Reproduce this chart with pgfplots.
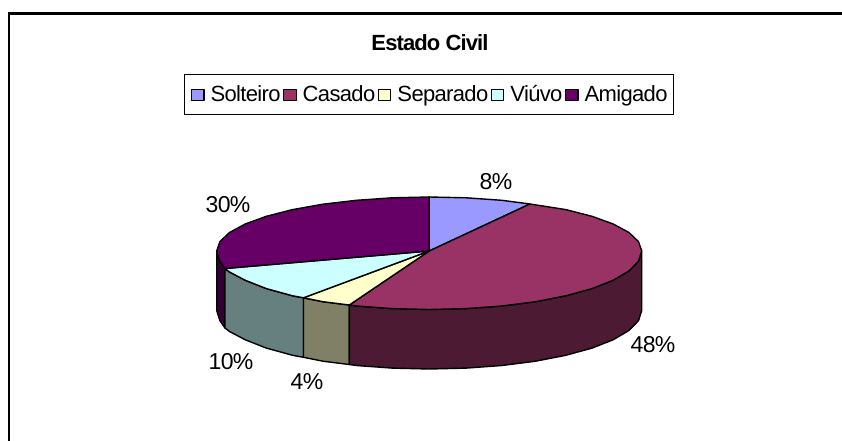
\documentclass[border=0pt]{standalone}
\usepackage{fontspec}
\setmainfont{Liberation Sans}
\usepackage{pgfplots}
\pgfplotsset{compat=1.18}
\definecolor{sol}{HTML}{9999FF}
\definecolor{cas}{HTML}{993366}
\definecolor{sep}{HTML}{FFFFCC}
\definecolor{viu}{HTML}{CCFFFF}
\definecolor{ami}{HTML}{660066}
\definecolor{casd}{HTML}{4D1A33}
\definecolor{sepd}{HTML}{808066}
\definecolor{viud}{HTML}{668080}
\definecolor{amid}{HTML}{330033}
\newcommand{\lab}{\fontsize{23}{26}\selectfont\addfontfeatures{LetterSpace=-3}}
\begin{document}
\begin{tikzpicture}
\path[use as bounding box] (0,0) rectangle (842pt,441pt);
\begin{axis}[
  at={(0,0)}, anchor=south west,
  scale only axis, width=842pt, height=441pt,
  xmin=0, xmax=842, ymin=0, ymax=441, y dir=reverse,
  axis lines=none, clip=false,
  legend columns=5,
  legend style={
    at={(axis cs:429.2,94.5)}, anchor=center,
    draw=black, line width=1.2pt, fill=white,
    font=\fontsize{22}{26}\selectfont\addfontfeatures{LetterSpace=-3},
    inner xsep=6pt, inner ysep=11pt,
    nodes={inner sep=0pt, anchor=base west},
    /tikz/every odd column/.append style={column sep=6pt},
    /tikz/every even column/.append style={column sep=2.5pt},
  },
  legend image code/.code={\draw[#1,line width=1.2pt] (0pt,1.5pt) rectangle (12.5pt,12.5pt);},
  every axis plot/.append style={draw=black, line width=1.4pt, line join=round},
]
% side walls
\addplot[forget plot, fill=amid] coordinates {(225,268.5)(219.9,261.2)(216.7,251)(216.7,310.5)(219.9,320.7)(225,328)} --cycle;
\addplot[forget plot, fill=viud] coordinates {(303.5,297.8)(292.6,295.8)(266.4,288.6)(245.2,280.25)(229.5,272)(225,268.5)(225,328)(229.5,331.5)(245.2,339.75)(266.4,348.1)(292.6,355.3)(303.5,357.3)} --cycle;
\addplot[forget plot, fill=sepd] coordinates {(349.3,305)(322.9,301.7)(303.5,297.8)(303.5,357.3)(322.9,361.2)(349.3,364.5)} --cycle;
\addplot[forget plot, fill=casd] coordinates {(641.7,251)(638.5,261.2)(628.9,271)(613.2,280.25)(592,288.6)(565.8,295.8)(535.5,301.7)(501.9,306)(466.1,308.6)(429.2,309.5)(392.3,308.6)(356.5,306)(349.3,305)(349.3,364.5)(356.5,365.5)(392.3,368.1)(429.2,369)(466.1,368.1)(501.9,365.5)(535.5,361.2)(565.8,355.3)(592,348.1)(613.2,339.75)(628.9,330.5)(638.5,320.7)(641.7,310.5)} --cycle;
% top slices
\addplot[fill=sol] coordinates {(429.2,251)(429.2,197)(466.1,197.8)(501.9,200.3)(530,204)} --cycle;
\addlegendentry{Solteiro}
\addplot[fill=cas] coordinates {(429.2,251)(530,204)(565.8,209.6)(592,216.3)(613.2,224)(628.9,232.5)(638.5,241.6)(641.7,251)(638.5,261.2)(628.9,271)(613.2,280.25)(592,288.6)(565.8,295.8)(535.5,301.7)(501.9,306)(466.1,308.6)(429.2,309.5)(392.3,308.6)(356.5,306)(349.3,305)} --cycle;
\addlegendentry{Casado}
\addplot[fill=sep] coordinates {(429.2,251)(349.3,305)(322.9,301.7)(303.5,297.8)} --cycle;
\addlegendentry{Separado}
\addplot[fill=viu] coordinates {(429.2,251)(303.5,297.8)(292.6,295.8)(266.4,288.6)(245.2,280.25)(229.5,272)(225,268.5)} --cycle;
\addlegendentry{Viúvo}
\addplot[fill=ami] coordinates {(429.2,251)(225,268.5)(219.9,261.2)(216.7,251)(219.9,241.6)(229.5,232.5)(245.2,224)(266.4,216.3)(292.6,209.6)(322.9,204.2)(356.5,200.3)(392.3,197.8)(429.2,197)} --cycle;
\addlegendentry{Amigado}
% frame
\draw[black, line width=2.4pt] (axis cs:9,441) -- (axis cs:9,13.5) -- (axis cs:842,13.5);
% texts
\node[font=\fontsize{22}{26}\selectfont\bfseries\addfontfeatures{LetterSpace=-4}] at (axis cs:430,42.7) {Estado Civil};
\node[font=\lab] at (axis cs:496,181.7) {8\%};
\node[font=\lab] at (axis cs:653,345) {48\%};
\node[font=\lab] at (axis cs:228,205) {30\%};
\node[font=\lab] at (axis cs:231,361.7) {10\%};
\node[font=\lab] at (axis cs:307,381.7) {4\%};
\end{axis}
\end{tikzpicture}
\end{document}
